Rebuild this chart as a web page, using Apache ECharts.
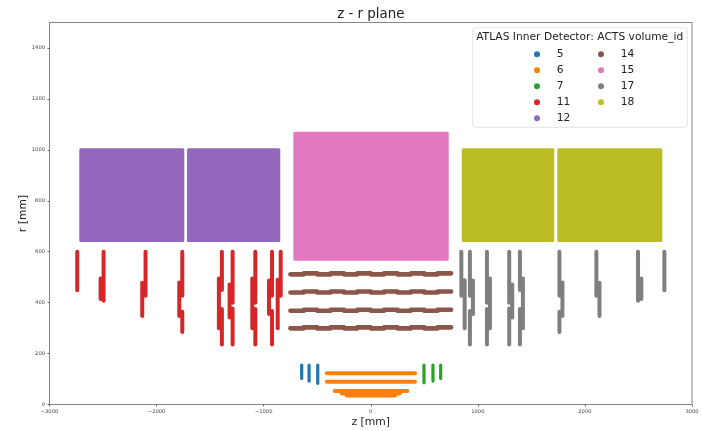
<!DOCTYPE html>
<html><head><meta charset="utf-8">
<style>html,body{margin:0;padding:0;background:#fff}#c{width:702px;height:431px}</style>
<script src="https://cdn.jsdelivr.net/npm/echarts@6/dist/echarts.min.js"></script>
</head><body><div id="c"></div>
<script>
// rectangles and strips as [z1, r1, z2, r2] in mm
const vol5 = [[-645,155,-645,102],[-576,155,-576,92],[-495,155,-495,83]];
const vol6 = [[-411,123,413,123],[-411,89,413,89],[-337,53,341,53],[-270,43,270,43],[-225,35,227,35]];
const vol7 = [[497,155,497,85],[581,155,581,92],[653,155,653,102]];
const vol11 = [
 [-2741,600,-2741,449],[-2495,600,-2495,407],[-2523,495,-2523,414],
 [-2103,600,-2103,427],[-2134,478,-2134,348],
 [-1760,600,-1760,427],[-1788,479,-1788,348],[-1760,364,-1760,285],
 [-1390,600,-1390,450],[-1418,495,-1418,299],[-1390,375,-1390,236],
 [-1290,600,-1290,400],[-1318,471,-1318,342],[-1290,377,-1290,236],
 [-1078,600,-1078,400],[-1106,495,-1106,299],[-1078,375,-1078,236],
 [-922,600,-922,427],[-950,487,-950,355],[-922,367,-922,236],
 [-841,600,-841,427],[-869,490,-869,299]];
const vol12 = [[-2722,638,-1741,1006],[-1716,638,-845,1006]];
const moduleEdges = [-750,-625,-500,-375,-250,-125,0,125,250,375,500,625,750];
const barrel1 = [511,515,511,515,511,515,511,515,511,515,511,515];
const barrel2 = [440,444,440,444,440,444,440,444,440,444,440,444];
const barrel3 = [368,372,368,372,368,372,368,372,368,372,368,372];
const barrel4 = [299,303,299,303,299,303,299,303,299,303,299,303];
const vol14 = [barrel1,barrel2,barrel3,barrel4].flatMap(b => b.map((r,i) => [moduleEdges[i],r,moduleEdges[i+1],r]));
const vol15 = [[-723,564,728,1071]];
const vol17 = [
 [846,600,846,427],[877,488,877,299],
 [926,600,926,427],[954,487,954,355],[926,367,926,236],
 [1085,600,1085,400],[1113,495,1113,299],[1085,375,1085,236],
 [1293,600,1293,400],[1321,471,1321,342],[1293,377,1293,236],
 [1393,600,1393,450],[1421,495,1421,299],[1393,375,1393,236],
 [1762,600,1762,427],[1790,479,1790,348],[1762,364,1762,285],
 [2107,600,2107,427],[2136,478,2136,348],
 [2496,600,2496,407],[2527,495,2527,414],
 [2742,600,2742,449]];
const vol18 = [[850,638,1714,1006],[1742,638,2723,1006]];
const names = ['5','6','7','11','12','14','15','17','18'];
const colors = ['#1f77b4','#ff7f0e','#2ca02c','#d62728','#9467bd','#8c564b','#e377c2','#7f7f7f','#bcbd22'];
const volumes = [vol5,vol6,vol7,vol11,vol12,vol14,vol15,vol17,vol18];
const kinds = ['line','line','line','line','rect','line','rect','line','rect'];
const widths = [3.2,4,3.2,4,0,4.6,0,4,0];
const font = '"DejaVu Sans"';
const chart = echarts.init(document.getElementById('c'),null,{renderer:'canvas'});
function render(kind,w){return function(params,api){
  const a = api.coord([api.value(0),api.value(1)]);
  const b = api.coord([api.value(2),api.value(3)]);
  const color = api.visual('color');
  if(kind==='rect') return {type:'rect',shape:{x:a[0],y:b[1],width:b[0]-a[0],height:a[1]-b[1],r:1.5},style:{fill:color}};
  return {type:'line',shape:{x1:a[0],y1:a[1],x2:b[0],y2:b[1]},style:{stroke:color,lineWidth:w,lineCap:'round'}};
};}
const legendBase = {orient:'vertical',top:46.3,icon:'circle',itemWidth:6,itemHeight:16,itemGap:0,padding:0,z:5,
  textStyle:{fontFamily:font,fontSize:10.7,color:'#222',lineHeight:16,padding:[0,0,0,11.7]}};
chart.setOption({
  animation:false,
  backgroundColor:'#fff',
  title:[
   {text:'z - r plane',left:370.8,top:8,padding:0,textAlign:'center',textStyle:{fontFamily:font,fontWeight:'normal',fontSize:13.4,color:'#222'}},
   {text:'ATLAS Inner Detector: ACTS volume_id',left:579.7,top:32,padding:0,textAlign:'center',z:10,textStyle:{fontFamily:font,fontWeight:'normal',fontSize:10.7,color:'#222'}}
  ],
  graphic:[{type:'rect',z:3,shape:{x:472.7,y:27.7,width:214.6,height:99.6,r:3},style:{fill:'rgba(255,255,255,0.8)',stroke:'#e4e4e4',lineWidth:1}}],
  grid:{left:49.5,right:10,top:22.5,bottom:26.5,show:true,borderColor:'#858585',borderWidth:1,backgroundColor:'#fff',outerBoundsMode:'none'},
  xAxis:{type:'value',min:-3000,max:3000,interval:1000,name:'z [mm]',nameLocation:'middle',nameGap:12,nameMoveOverlap:false,
    nameTextStyle:{fontFamily:font,fontSize:10.8,color:'#222'},
    splitLine:{show:false},axisLine:{onZero:false,lineStyle:{color:'#858585'}},axisTick:{length:2,lineStyle:{color:'#666'}},
    axisLabel:{fontFamily:font,fontSize:5.2,color:'#444',margin:4.5,hideOverlap:false,formatter:v=>String(v).replace('-','\u2212')}},
  yAxis:{type:'value',min:0,max:1500,interval:200,name:'r [mm]',nameLocation:'middle',nameGap:21,nameMoveOverlap:false,
    nameTextStyle:{fontFamily:font,fontSize:10.8,color:'#222'},
    splitLine:{show:false},axisLine:{onZero:false,lineStyle:{color:'#858585'}},axisTick:{length:2,lineStyle:{color:'#666'}},
    axisLabel:{fontFamily:font,fontSize:5.2,color:'#444',margin:4.5,showMaxLabel:false,formatter:v=>String(v)}},
  legend:[
    Object.assign({},legendBase,{left:534,data:names.slice(0,5)}),
    Object.assign({},legendBase,{left:598,data:names.slice(5)})
  ],
  series:names.map((n,i)=>({type:'custom',name:n,coordinateSystem:'cartesian2d',
    itemStyle:{color:colors[i]},color:colors[i],
    encode:{x:[0,2],y:[1,3]},
    renderItem:render(kinds[i],widths[i]),data:volumes[i]}))
});
</script></body></html>
